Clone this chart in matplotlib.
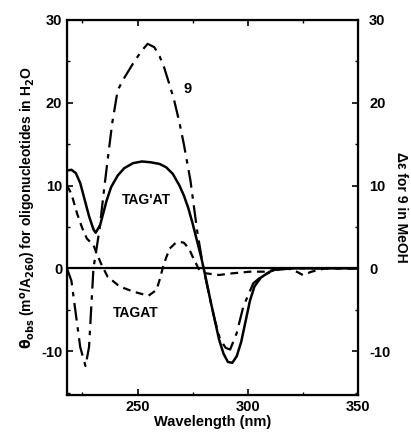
import numpy as np
import matplotlib.pyplot as plt
from matplotlib.ticker import MultipleLocator

# TAG*AT (solid)
wl_tagsat = [218, 220, 222, 224, 226, 228, 230, 231, 233, 236, 238, 241, 244, 248, 252, 256, 260,
             263, 266, 269, 271, 273, 275, 277, 279, 281, 283, 285, 287, 289, 291, 293, 295, 297,
             299, 301, 303, 306, 310, 314, 320, 350]
y_tagsat = [11.8, 11.9, 11.5, 10.3, 8.3, 6.3, 4.7, 4.3, 5.2, 8.2, 9.8, 11.2, 12.1, 12.7, 12.9, 12.8, 12.6,
            12.2, 11.4, 10.0, 8.8, 7.3, 5.4, 3.3, 1.2, -1.2, -3.8, -6.2, -8.6, -10.3, -11.3, -11.4, -10.6, -8.9,
            -6.4, -3.9, -2.2, -1.1, -0.4, 0.0, 0.0, 0.0]

# TAGAT (short dashes)
wl_tagat = [218, 220, 222.6, 225, 227, 230, 231.5, 233.4, 236.4, 241, 244, 248, 252, 255, 258.6,
            260, 261.6, 263, 264.6, 267, 269, 271, 272, 274, 275, 278, 281, 287, 293, 301, 308.6,
            314, 320, 325, 329, 335, 350]
y_tagat = [10.0, 9.0, 6.6, 4.8, 3.6, 2.8, 1.8, 0.6, -1.0, -2.0, -2.4, -2.8, -3.1, -3.3, -2.6,
           -1.4, 0.2, 1.3, 2.4, 3.0, 3.2, 3.1, 2.8, 2.0, 1.4, -0.2, -0.6, -0.8, -0.6, -0.4, -0.4,
           0.0, -0.1, -0.8, -0.4, 0.0, 0.0]

# compound 9 in MeOH (dash-dot)
wl_c9 = [218, 220, 222, 224, 226.4, 228, 230, 232.7, 234.5, 236.4, 238.5, 241, 244, 248.6,
         252, 254.6, 257.6, 260, 262, 264, 266.6, 269, 271, 274, 277, 280, 283, 285, 287.5,
         290, 292, 295, 298, 302.5, 307, 313, 320, 350]
y_c9 = [0.0, -1.5, -5.5, -9.5, -11.8, -9.5, 0.0, 4.6, 8.8, 13.0, 17.5, 21.5, 23.0, 25.0,
        26.3, 27.1, 26.7, 25.6, 24.3, 22.6, 20.3, 17.6, 15.0, 10.6, 4.6, -0.2, -3.8, -6.2, -8.6,
        -9.6, -9.8, -7.8, -4.6, -1.8, -0.8, -0.2, 0.0, 0.0]

y_ticks = [-10, 0, 10, 20, 30]
x_ticks = [250, 300, 350]

plt.rcParams['font.family'] = ['Liberation Sans', 'DejaVu Sans']
plt.rcParams['font.weight'] = 'bold'
plt.rcParams['axes.unicode_minus'] = False

fig = plt.figure(figsize=(4.11, 4.40), dpi=100)
ax = fig.add_axes([0.163, 0.102, 0.708, 0.853])

ax.axhline(0, color='black', lw=1.6)
ax.plot(wl_tagsat, y_tagsat, color='black', lw=1.8, solid_capstyle='round')
ax.plot(wl_tagat, y_tagat, color='black', lw=1.6, dashes=(3.5, 2.5))
ax.plot(wl_c9, y_c9, color='black', lw=1.6, dashes=(8, 3, 2, 3))

ax.set_xlim(218, 350)
ax.set_ylim(-15.3, 30)
ax.set_xticks(x_ticks)
ax.set_yticks(y_ticks)
ax.xaxis.set_minor_locator(MultipleLocator(25))
ax.yaxis.set_minor_locator(MultipleLocator(5))
ax.tick_params(which='both', direction='in', top=True, right=True, labelsize=10.5)
ax.tick_params(which='major', length=4, width=1.2)
ax.tick_params(which='minor', length=2.5, width=1)
for s in ax.spines.values():
    s.set_linewidth(1.6)

ax.set_xlabel('Wavelength (nm)', fontsize=10.5, fontweight='bold', labelpad=1)
ax.set_ylabel(r'$\mathbf{\theta_{obs}}$ (m$^{\mathbf{o}}$/A$_{\mathbf{260}}$) for oligonucleotides in H$_{\mathbf{2}}$O',
              fontsize=10, fontweight='bold', labelpad=2)

ax2 = ax.twinx()
ax2.set_ylim(-15.3, 30)
ax2.set_yticks(y_ticks)
ax2.yaxis.set_minor_locator(MultipleLocator(5))
ax2.tick_params(which='both', direction='in', labelsize=10.5, pad=8)
ax2.tick_params(which='major', length=4, width=1.2)
ax2.tick_params(which='minor', length=2.5, width=1)
ax2.set_ylabel('Δε for 9 in MeOH', rotation=-90, fontsize=10, fontweight='bold', labelpad=13)

ax.text(272.8, 21.7, '9', fontsize=10.5, fontweight='bold', ha='center', va='center')
ax.text(254, 8.2, "TAG'AT", fontsize=10, fontweight='bold', ha='center', va='center')
ax.text(249, -5.4, 'TAGAT', fontsize=10, fontweight='bold', ha='center', va='center')

fig.savefig('out.png', dpi=100)
